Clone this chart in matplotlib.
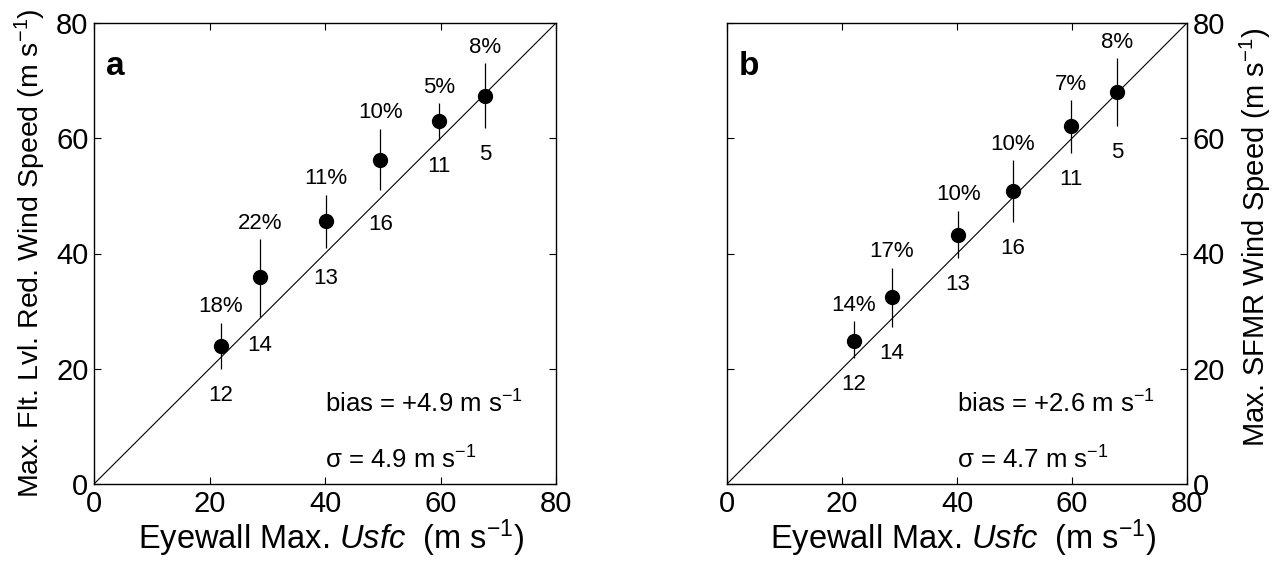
import matplotlib
matplotlib.use('Agg')
import matplotlib.pyplot as plt

plt.rcParams['font.family'] = ['Liberation Sans', 'DejaVu Sans']
plt.rcParams['mathtext.fontset'] = 'custom'
plt.rcParams['mathtext.rm'] = 'Liberation Sans'
plt.rcParams['mathtext.it'] = 'Liberation Sans:italic'

# eyewall max Usfc (x) for both panels
usfc_a = [22.0, 28.7, 40.2, 49.6, 59.8, 67.7]
usfc_b = [22.0, 28.7, 40.2, 49.7, 59.9, 67.8]

# panel a: flight-level reduced wind speed
flt_mean = [23.9, 35.9, 45.6, 56.3, 63.0, 67.3]
flt_hi = [28.0, 42.5, 50.2, 61.6, 66.1, 73.0]
flt_lo = [19.9, 29.0, 41.0, 51.0, 59.7, 61.7]
flt_pct = ['18%', '22%', '11%', '10%', '5%', '8%']

# panel b: SFMR wind speed
sfmr_mean = [24.9, 32.5, 43.2, 50.9, 62.1, 68.0]
sfmr_hi = [28.2, 37.5, 47.4, 56.2, 66.6, 73.9]
sfmr_lo = [21.8, 27.3, 39.2, 45.5, 57.5, 62.1]
sfmr_pct = ['14%', '17%', '10%', '10%', '7%', '8%']

counts = ['12', '14', '13', '16', '11', '5']

fig = plt.figure(figsize=(12.81, 5.69), dpi=100)
ax_a = fig.add_axes([94/1281, 85/569, 462/1281, 461/569])
ax_b = fig.add_axes([727/1281, 85/569, 460/1281, 461/569])

panels = [
    (ax_a, usfc_a, flt_mean, flt_hi, flt_lo, flt_pct, 'a', '+4.9', '4.9',
     'Max. Flt. Lvl. Red. Wind Speed (m s$^{-1}$)', 'left'),
    (ax_b, usfc_b, sfmr_mean, sfmr_hi, sfmr_lo, sfmr_pct, 'b', '+2.6', '4.7',
     'Max. SFMR Wind Speed (m s$^{-1}$)', 'right'),
]

for ax, x, y, hi, lo, pct, tag, bias, sig, ylab, side in panels:
    ax.plot([0, 80], [0, 80], color='k', lw=0.8)
    ax.vlines(x, lo, hi, color='k', lw=0.9)
    ax.plot(x, y, 'o', color='k', ms=10)
    for xi, h, l, p, n in zip(x, hi, lo, pct, counts):
        ax.annotate(p, (xi, h), xytext=(0, 4), textcoords='offset points',
                    ha='center', va='bottom', fontsize=16)
        ax.annotate(n, (xi, min(l, xi)), xytext=(0, -11.5), textcoords='offset points',
                    ha='center', va='top', fontsize=16)
    ax.text(2, 72.5, tag, fontsize=24, fontweight='bold', va='center')
    ax.text(40, 13.8, 'bias = ' + bias + ' m s$^{-1}$', fontsize=18.5, va='center')
    ax.text(40, 4.2, '\u03c3 = ' + sig + ' m s$^{-1}$', fontsize=18.5, va='center')
    ax.set_xlim(0, 80)
    ax.set_ylim(0, 80)
    ax.set_xticks([0, 20, 40, 60, 80])
    ax.set_yticks([0, 20, 40, 60, 80])
    ax.tick_params(direction='in', top=True, right=True, labelsize=21, length=5, pad=4)
    ax.set_xlabel('Eyewall Max. $\\it{Usfc}$  (m s$^{-1}$)', fontsize=23.5, labelpad=0)
    ax.xaxis.set_label_coords(0.513, -0.073)
    if side == 'right':
        ax.yaxis.tick_right()
        ax.tick_params(left=True, right=True, labelleft=False, labelright=True, direction='in')
        ax.yaxis.set_label_position('right')
        ax.set_ylabel(ylab, fontsize=21)
        ax.yaxis.set_label_coords(1.111, 0.536)
    else:
        ax.set_ylabel(ylab, fontsize=20.5)
        ax.yaxis.set_label_coords(-0.099, 0.5)
    for s in ax.spines.values():
        s.set_linewidth(1.0)

fig.savefig('out.png', dpi=100)
